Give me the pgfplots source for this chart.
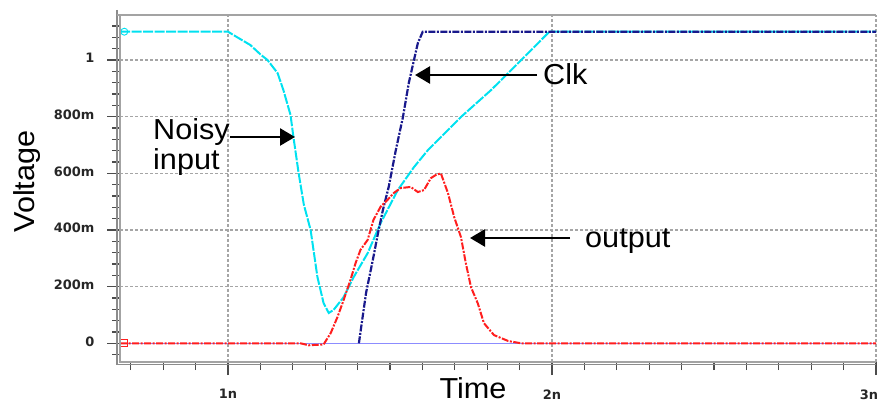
\documentclass[border=0pt]{standalone}
\usepackage{pgfplots}
\pgfplotsset{compat=1.18}
\usepackage{fontspec}
\setmainfont{Liberation Sans}[FakeStretch=1.06]
\newfontfamily\tickfont{DejaVu Sans}
\usetikzlibrary{arrows.meta}
\definecolor{cyanline}{RGB}{0,225,240}
\definecolor{navyline}{RGB}{25,25,140}
\definecolor{redline}{RGB}{255,30,30}
\definecolor{lbline}{RGB}{140,140,255}
\definecolor{gridgray}{RGB}{165,165,165}
\definecolor{framegray}{RGB}{140,140,140}
\newcommand\labfont{\fontsize{29}{30}\selectfont}
\begin{document}
\begin{tikzpicture}
\begin{axis}[
  at={(0,0)}, anchor=south west,
  width=756bp, height=347bp, scale only axis,
  xmin=0.6667, xmax=3.0, ymin=-0.066, ymax=1.159,
  axis line style={draw=none},
  xtick={1,2,3}, xticklabels={1n,2n,{\hspace{4bp}\makebox[0pt][r]{3n}}},
  ytick={0,0.2,0.4,0.6,0.8,1}, yticklabels={0,200m,400m,600m,800m,1},
  minor xtick={0.7,0.8,...,2.95},
  minor ytick={-0.04,0,...,1.17},
  tick pos=left,
  tick align=outside,
  major tick length=13bp, minor tick length=8bp,
  every tick/.style={black!70, line width=1.1bp},
  grid=major,
  grid style={gridgray, line width=1.2bp, dash pattern=on 3bp off 2bp},
  ticklabel style={font=\tickfont\bfseries\fontsize{13}{13}\selectfont, text=black!85},
  yticklabel style={xshift=-9bp, yshift=2bp},
  xticklabel style={yshift=-11bp},
]
\addplot[lbline, line width=1.4bp] coordinates {(0.6667,0) (3.0,0)};
\addplot[cyanline, line width=2bp, dash pattern=on 10bp off 1.5bp] coordinates {
(0.6667,1.10) (1.0,1.10) (1.032,1.078) (1.069,1.053) (1.10,1.02) (1.122,1.0)
(1.153,0.954) (1.171,0.894) (1.193,0.806) (1.202,0.728) (1.218,0.601)
(1.234,0.49) (1.255,0.40) (1.276,0.234) (1.295,0.142) (1.311,0.107)
(1.326,0.118) (1.357,0.163) (1.388,0.234) (1.431,0.318) (1.471,0.424)
(1.524,0.541) (1.574,0.622) (1.617,0.682) (1.719,0.799) (1.812,0.894)
(1.905,1.0) (1.992,1.10) (3.0,1.10)};
\addplot[navyline, line width=2.2bp, dash pattern=on 7bp off 1.5bp on 2bp off 1.5bp] coordinates {
(1.404,0) (1.426,0.177) (1.447,0.294) (1.463,0.389) (1.478,0.470)
(1.496,0.552) (1.518,0.682) (1.540,0.799) (1.558,0.919) (1.574,1.0)
(1.586,1.06) (1.601,1.10) (3.0,1.10)};
\addplot[redline, line width=2bp, dash pattern=on 7bp off 1.5bp on 2bp off 1.5bp] coordinates {
(0.6667,0) (1.224,0) (1.249,-0.007) (1.295,-0.004) (1.317,0.036)
(1.338,0.093) (1.357,0.153) (1.378,0.224) (1.394,0.284) (1.409,0.330)
(1.431,0.365) (1.449,0.436) (1.471,0.482) (1.493,0.507) (1.512,0.531)
(1.533,0.548) (1.564,0.552) (1.586,0.534) (1.605,0.541) (1.626,0.583)
(1.641,0.594) (1.657,0.600) (1.679,0.530) (1.698,0.446) (1.719,0.375)
(1.734,0.283) (1.750,0.198) (1.771,0.141) (1.790,0.071) (1.821,0.029)
(1.865,0.008) (1.905,0) (3.0,0)};
\addplot[only marks, mark=square, mark size=3.5bp, redline, line width=0.9bp] coordinates {(0.680,0)};
\addplot[only marks, mark=o, mark size=3.5bp, cyanline, line width=0.9bp] coordinates {(0.680,1.10)};
\end{axis}
% frame
\draw[framegray, line width=1.3bp] (-3bp,352bp) -- (-3bp,-2.5bp) -- (756bp,-2.5bp);
\draw[framegray!80, line width=1.1bp] (0,347bp) -- (0,0) -- (756bp,0);
\draw[framegray!80, line width=1.6bp] (-3bp,347bp) -- (756bp,347bp);
% labels
\node[font=\labfont, rotate=90, anchor=base, inner sep=0] at (-85bp,180.5bp) {Voltage};
\node[font=\labfont, anchor=base, inner sep=0] at (353bp,-36bp) {Time};
\node[font=\labfont, anchor=base west, inner sep=0] at (33bp,222bp) {Noisy};
\node[font=\labfont, anchor=base west, inner sep=0] at (33bp,192bp) {input};
\node[font=\labfont, anchor=base west, inner sep=0] at (423bp,277bp) {Clk};
\node[font=\labfont, anchor=base west, inner sep=0] at (465bp,114bp) {output};
% arrows
\draw[line width=2.5bp, -{Triangle[length=15bp,width=17bp]}] (110bp,225bp) -- (175bp,225bp);
\draw[line width=2.5bp, -{Triangle[length=15bp,width=17bp]}] (417bp,287bp) -- (295bp,287bp);
\draw[line width=2.5bp, -{Triangle[length=15bp,width=17bp]}] (450bp,124bp) -- (350bp,124bp);
\pgfresetboundingbox
\path[use as bounding box] (-120bp,-42bp) rectangle (758bp,362bp);
\end{tikzpicture}
\end{document}
